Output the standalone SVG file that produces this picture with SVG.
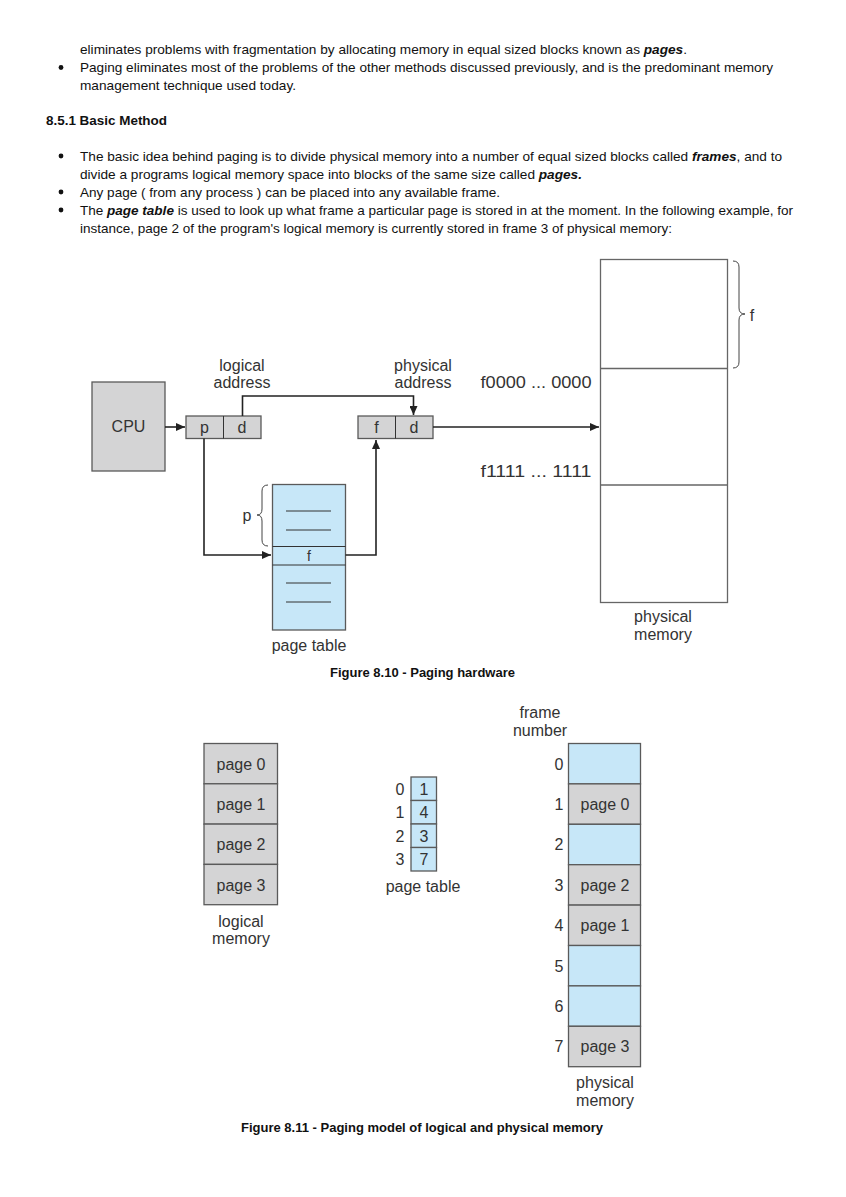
<svg xmlns="http://www.w3.org/2000/svg" width="846" height="1197" viewBox="0 0 846 1197">
<style>
.body{font-family:"Liberation Sans",Arial,sans-serif;font-size:13px;fill:#111}
.bi{font-weight:bold;font-style:italic}
.hd{font-family:"Liberation Sans",Arial,sans-serif;font-size:13px;font-weight:bold;fill:#111}
.lbl{font-family:"Liberation Sans",Arial,sans-serif;font-size:16px;fill:#333;text-anchor:middle}
.lbls{font-family:"Liberation Sans",Arial,sans-serif;font-size:14px;fill:#333;text-anchor:middle}
.gray{fill:#d4d4d5;stroke:#5a5a5a;stroke-width:1.3}
.blue{fill:#c7e7f8;stroke:#5a5a5a;stroke-width:1.3}
.white{fill:#fff;stroke:#666;stroke-width:1.3}
.conn{fill:none;stroke:#222;stroke-width:1.6}
.brace{fill:none;stroke:#444;stroke-width:1}
.dash{stroke:#333;stroke-width:1}
</style>
<defs>
<marker id="ah" markerWidth="10" markerHeight="8" refX="9" refY="4" orient="auto" markerUnits="userSpaceOnUse">
<path d="M0,0 L9,4 L0,8 Z" fill="#222"/>
</marker>
</defs>
<rect width="846" height="1197" fill="#fff"/>

<g id="text-body">
<text class="body" x="80" y="54" textLength="607" lengthAdjust="spacingAndGlyphs">eliminates problems with fragmentation by allocating memory in equal sized blocks known as <tspan class="bi">pages</tspan>.</text>
<circle cx="61" cy="67.5" r="2.4" fill="#111"/>
<text class="body" x="80" y="72" textLength="693" lengthAdjust="spacingAndGlyphs">Paging eliminates most of the problems of the other methods discussed previously, and is the predominant memory</text>
<text class="body" x="80" y="90" textLength="216" lengthAdjust="spacingAndGlyphs">management technique used today.</text>
<text class="hd" x="46" y="125" textLength="121" lengthAdjust="spacingAndGlyphs">8.5.1 Basic Method</text>
<circle cx="61" cy="156" r="2.4" fill="#111"/>
<text class="body" x="80" y="161" textLength="702" lengthAdjust="spacingAndGlyphs">The basic idea behind paging is to divide physical memory into a number of equal sized blocks called <tspan class="bi">frames</tspan>, and to</text>
<text class="body" x="80" y="179" textLength="502" lengthAdjust="spacingAndGlyphs">divide a programs logical memory space into blocks of the same size called <tspan class="bi">pages.</tspan></text>
<circle cx="61" cy="192" r="2.4" fill="#111"/>
<text class="body" x="80" y="197" textLength="420" lengthAdjust="spacingAndGlyphs">Any page ( from any process ) can be placed into any available frame.</text>
<circle cx="61" cy="210" r="2.4" fill="#111"/>
<text class="body" x="80" y="215" textLength="713" lengthAdjust="spacingAndGlyphs">The <tspan class="bi">page table</tspan> is used to look up what frame a particular page is stored in at the moment. In the following example, for</text>
<text class="body" x="80" y="233" textLength="592" lengthAdjust="spacingAndGlyphs">instance, page 2 of the program's logical memory is currently stored in frame 3 of physical memory:</text>
</g>

<!-- Figure 8.10 -->
<g id="cpu">
<rect class="gray" x="92" y="382" width="73" height="89"/>
<text class="lbl" x="128.5" y="432">CPU</text>
</g>
<g id="logical-address">
<rect class="gray" x="186" y="416" width="75" height="22.5"/>
<line class="dash" x1="223.5" y1="416" x2="223.5" y2="438.5" stroke="#5a5a5a"/>
<text class="lbl" x="204.5" y="433">p</text>
<text class="lbl" x="242" y="433">d</text>
<text class="lbl" x="242" y="371">logical</text>
<text class="lbl" x="242" y="388">address</text>
</g>
<g id="physical-address">
<rect class="gray" x="358" y="416" width="75" height="22.5"/>
<line class="dash" x1="395.5" y1="416" x2="395.5" y2="438.5" stroke="#5a5a5a"/>
<text class="lbl" x="376.5" y="433">f</text>
<text class="lbl" x="414" y="433">d</text>
<text class="lbl" x="423" y="371">physical</text>
<text class="lbl" x="423" y="388">address</text>
</g>
<g id="page-table-hw">
<rect class="blue" x="272.5" y="484.5" width="73" height="145.5"/>
<line class="dash" x1="272.5" y1="546.5" x2="345.5" y2="546.5" stroke="#5a5a5a"/>
<line class="dash" x1="272.5" y1="565" x2="345.5" y2="565" stroke="#5a5a5a"/>
<line class="dash" x1="286" y1="511" x2="331" y2="511"/>
<line class="dash" x1="286" y1="530" x2="331" y2="530"/>
<line class="dash" x1="286" y1="583" x2="331" y2="583"/>
<line class="dash" x1="286" y1="602" x2="331" y2="602"/>
<text class="lbls" x="309" y="561">f</text>
<path class="brace" d="M268,485 Q262,485 262,491 L262,509 Q262,515 257,515 Q262,515 262,521 L262,540 Q262,546 268,546"/>
<text class="lbl" x="247" y="521">p</text>
<text class="lbl" x="309" y="651">page table</text>
</g>
<g id="physical-memory-hw">
<rect class="white" x="600.5" y="259.5" width="127" height="343"/>
<line x1="600.5" y1="368.5" x2="727.5" y2="368.5" stroke="#666" stroke-width="1.3"/>
<line x1="600.5" y1="485" x2="727.5" y2="485" stroke="#666" stroke-width="1.3"/>
<path class="brace" d="M733,261 Q739,261 739,267 L739,308 Q739,314 745,314 Q739,314 739,320 L739,362 Q739,368 733,368"/>
<text class="lbl" x="752" y="321">f</text>
<text class="lbl" x="536" y="388" textLength="111" lengthAdjust="spacingAndGlyphs">f0000 ... 0000</text>
<text class="lbl" x="536" y="477" textLength="111" lengthAdjust="spacingAndGlyphs">f1111 ... 1111</text>
<text class="lbl" x="663" y="622">physical</text>
<text class="lbl" x="663" y="640">memory</text>
</g>
<g id="connectors-hw">
<line class="conn" x1="165" y1="427" x2="185" y2="427" marker-end="url(#ah)"/>
<polyline class="conn" points="242.5,416 242.5,396 413.5,396 413.5,415" marker-end="url(#ah)"/>
<line class="conn" x1="433" y1="427" x2="599" y2="427" marker-end="url(#ah)"/>
<polyline class="conn" points="204,438.5 204,555 271,555" marker-end="url(#ah)"/>
<polyline class="conn" points="345.5,555 376,555 376,440" marker-end="url(#ah)"/>
</g>
<text class="hd" x="422.5" y="677" text-anchor="middle">Figure 8.10 - Paging hardware</text>

<!-- Figure 8.11 -->
<g id="logical-memory">
<rect class="gray" x="204" y="743.5" width="73.5" height="40.3"/>
<rect class="gray" x="204" y="783.8" width="73.5" height="40.3"/>
<rect class="gray" x="204" y="824.1" width="73.5" height="40.3"/>
<rect class="gray" x="204" y="864.4" width="73.5" height="40.3"/>
<text class="lbl" x="241" y="770">page 0</text>
<text class="lbl" x="241" y="810">page 1</text>
<text class="lbl" x="241" y="850">page 2</text>
<text class="lbl" x="241" y="891">page 3</text>
<text class="lbl" x="241" y="927">logical</text>
<text class="lbl" x="241" y="944">memory</text>
</g>
<g id="page-table">
<rect class="blue" x="411" y="777" width="25.5" height="23.5"/>
<rect class="blue" x="411" y="800.5" width="25.5" height="23.5"/>
<rect class="blue" x="411" y="824" width="25.5" height="23.5"/>
<rect class="blue" x="411" y="847.5" width="25.5" height="23.5"/>
<text class="lbl" x="424" y="794.5">1</text>
<text class="lbl" x="424" y="818">4</text>
<text class="lbl" x="424" y="841.5">3</text>
<text class="lbl" x="424" y="865">7</text>
<text class="lbl" x="400" y="794.5">0</text>
<text class="lbl" x="400" y="818">1</text>
<text class="lbl" x="400" y="841.5">2</text>
<text class="lbl" x="400" y="865">3</text>
<text class="lbl" x="423" y="892">page table</text>
</g>
<g id="physical-memory">
<text class="lbl" x="540" y="718">frame</text>
<text class="lbl" x="540" y="736">number</text>
<rect class="blue" x="568.5" y="743.5" width="72" height="40.4"/>
<rect class="gray" x="568.5" y="783.9" width="72" height="40.4"/>
<rect class="blue" x="568.5" y="824.3" width="72" height="40.4"/>
<rect class="gray" x="568.5" y="864.7" width="72" height="40.4"/>
<rect class="gray" x="568.5" y="905.1" width="72" height="40.4"/>
<rect class="blue" x="568.5" y="945.5" width="72" height="40.4"/>
<rect class="blue" x="568.5" y="985.9" width="72" height="40.4"/>
<rect class="gray" x="568.5" y="1026.3" width="72" height="40.4"/>
<text class="lbl" x="605" y="810">page 0</text>
<text class="lbl" x="605" y="891">page 2</text>
<text class="lbl" x="605" y="931">page 1</text>
<text class="lbl" x="605" y="1052">page 3</text>
<text class="lbl" x="559" y="769.5">0</text>
<text class="lbl" x="559" y="810">1</text>
<text class="lbl" x="559" y="850">2</text>
<text class="lbl" x="559" y="891">3</text>
<text class="lbl" x="559" y="931">4</text>
<text class="lbl" x="559" y="971.5">5</text>
<text class="lbl" x="559" y="1012">6</text>
<text class="lbl" x="559" y="1052">7</text>
<text class="lbl" x="605" y="1088">physical</text>
<text class="lbl" x="605" y="1106">memory</text>
</g>
<text class="hd" x="422" y="1132" text-anchor="middle">Figure 8.11 - Paging model of logical and physical memory</text>
</svg>
